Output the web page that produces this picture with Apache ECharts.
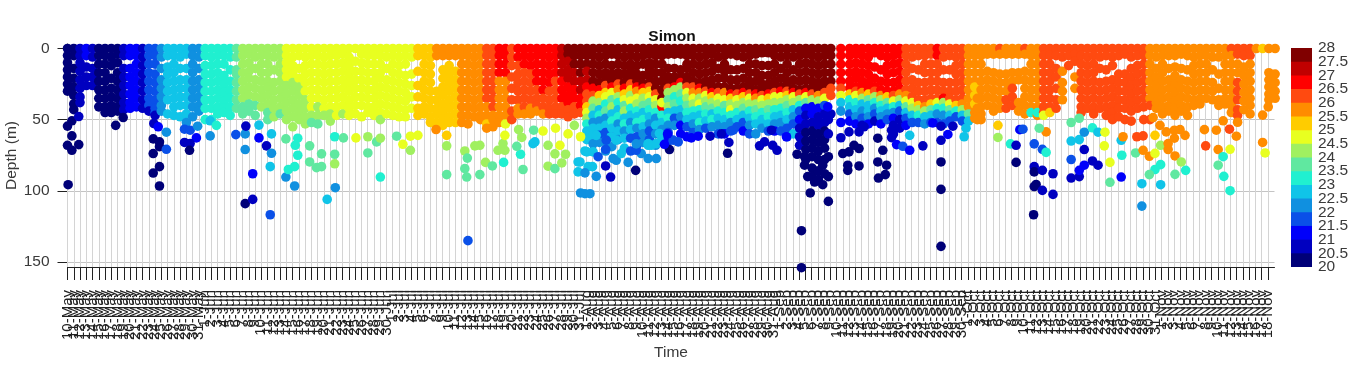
<!DOCTYPE html>
<html>
<head>
<meta charset="utf-8">
<title>Simon</title>
<script src="https://cdn.jsdelivr.net/npm/echarts@6/dist/echarts.min.js"></script>
<style>
html,body{margin:0;padding:0;background:#fff;}
#main{width:1366px;height:374px;}
</style>
</head>
<body>
<div id="main"></div>
<script>
// tick months: name, first day, last day
var monthSpans = [['May',10,31],['Jun',1,30],['Jul',1,31],['Aug',1,31],['Sep',1,30],['Oct',1,31],['Nov',1,18]];
var depthTicks = [0,50,100,150];
var colorbarTicks = ['20','20.5','21','21.5','22','22.5','23','23.5','24','24.5','25','25.5','26','26.5','27','27.5','28'];
var tempLevels = [20,20.5,21,21.5,22,22.5,23,23.5,24,24.5,25,25.5,26,26.5,27,27.5];
var levelColors = ['#000078','#0000c0','#0000fa','#0a50e8','#1090e0','#10c4e8','#20f0d0','#60e8a0','#a0f060','#e8ff20','#ffcc00','#ff8c00','#ff4a10','#ff0000','#c00000','#800000'];

// one entry per day, each day is a list of [temperature, depth, depth, ...]
var mayProfiles = [
 [[20.2,0,5,10,15,20,25,30]],
 [[20.2,0,5,14,21,27,33,39,43]],
 [[20.7,0,5,10,16,22,28,34,38]],
 [[21.2,0,5],[20.7,13,20,26]],
 [[20.7,0,6,14,20,26]],
 [[20.2,0,5,11,17,23,29,35,41]],
 [[20.2,0,5,11,17,23,29,35,41,45]],
 [[20.2,0,6,12,21,28,34,40,45]],
 [[20.2,0,4,10,17,23,29,35,41,44]],
 [[20.7,0,5,14,20,26,32,38,43]],
 [[21.2,0,5,14,20,26,32,38,42]],
 [[21.2,0,5,11,17,23,29,35,41]],
 [[20.7,0,6,12,18,24,30,36,42]],
 [[21.7,0,5,11,17,23,29,35,40],[20.7,44]],
 [[21.7,0,5,11,18,24,30,36,42,45],[20.7,47]],
 [[22.2,0,6,14,22,28,34,40,44]],
 [[22.7,0,5,13,18,24,30,36,46]],
 [[22.7,0,5,11,17,23,29,35,41,47]],
 [[22.7,0,6,14,22,28,34,40,48]],
 [[22.7,0,4,14,22,28,34,40,46],[22.2,52]],
 [[22.2,0,5,11,17,23,29,35,41,48]],
 [[22.2,0,6,14,22,28,34,40,44]]
];
var junProfiles = [
 [[23.2,0,5,12,18,24,30,36,42,50]],
 [[23.2,0,6,12,18,24,30,36,42,50]],
 [[23.2,0,5,11,17,23,29,35,41,46]],
 [[23.2,0,5,11,19,25,31,37,42,45]],
 [[23.2,0,6,15,23,29,35,41,47]],
 [[23.7,0,6,15,18,24,30,36,42]],
 [[24.2,0,5,11,17,23,29,35],[23.7,41,46]],
 [[24.2,0,4,10,16,21,27,33],[23.7,39,44]],
 [[24.2,0,6,14,22,28,34],[23.7,40,47]],
 [[24.2,0,5,11,17,23,29,35,41]],
 [[24.2,0,5,11,17,23,27,33,39],[23.7,45,50]],
 [[24.2,0,6,15,24,30,36,42,48]],
 [[24.2,0,5,11,17,23,29,35,41],[23.7,46]],
 [[24.7,0,5,10,15,20],[24.2,26,32,38,44,50]],
 [[24.7,0,6,12,18],[24.2,24,30,36,42,48,55]],
 [[24.7,0,5,14,21],[24.2,27,33,39,45,50]],
 [[24.7,0,6,12,18,24,30],[24.2,36,42,48,53]],
 [[24.7,0,5,11,17,23,29,35,41],[24.2,47],[23.7,52]],
 [[24.7,0,5,11,17,23,29,35],[24.2,41,47],[23.7,53]],
 [[24.7,0,6,12,18,24,30,36,42],[24.2,47]],
 [[24.7,0,5,11,17,23,29,35,41],[24.2,46,51]],
 [[24.7,0,5,11,17,23,29,35,41,47]],
 [[24.7,0,4,10,16,22,28,34,40],[24.2,46]],
 [[24.7,0,6,12,18,24,30,36,42,47]],
 [[24.7,0,9,16,22,28,34,40,46]],
 [[24.7,0,4,10,16,22,28,34,40,48]],
 [[24.7,0,5,11,17,23,29,35,41,45]],
 [[24.7,0,5,11,17,23,29,35,41,47]],
 [[24.7,0,5,11,17,21,27,33,39,45],[24.2,50]],
 [[24.7,0,6,14,22,28,34,40,46]]
];
var julProfiles = [
 [[24.7,0,5,11,17,23,29,35,41,47]],
 [[24.7,0,6,12,18,24,30,36,42,48]],
 [[24.7,0,5,11,19,25,31,37,43,48]],
 [[24.7,0,6,18,26,34,42]],
 [[25.2,0,5,16,26,34,42,47]],
 [[25.2,0,5,11,17,23,29,35,41,46]],
 [[25.2,0,6,12,18,24,30,36,42,48,52]],
 [[25.7,0,5],[25.2,30,36,42,46,52]],
 [[25.7,0,5],[25.2,15,21,27,33,39,45,50,54]],
 [[25.7,0,5],[25.2,12,18,24,30,36,42,48,52]],
 [[25.7,0,5],[25.2,16,22,28,34,40,46,52]],
 [[25.7,0,5,11,17,23,29,35,41,47,52]],
 [[25.7,0,5,11,17,23,29,35,41,47,53]],
 [[25.7,0,6,12,18,24,30,36,42,48]],
 [[25.7,0,5,11,17,23,29,35,41,47,50]],
 [[26.2,0,5,11,17,23,29,35],[25.7,41,47],[25.2,53],[25.7,56]],
 [[26.2,0,5,11,17,23,29,35,41],[25.7,47,50,55]],
 [[26.7,0,5,11,17],[25.7,23,29,35,41,47,52]],
 [[26.7,0,5,11,17],[25.7,23,29,35,41,47],[24.7,53]],
 [[26.2,0,6,12,20,28,36,44,50]],
 [[26.7,0,6],[26.2,12,18,24,30,36],[25.7,42,46]],
 [[26.7,0,5,11],[26.2,17,23,29,35,41],[25.7,46]],
 [[26.7,0,6,12],[26.2,18,24,30,36],[25.7,42,46]],
 [[26.7,0,5,11,17,23],[26.2,29,35,40],[25.7,44]],
 [[26.7,0,5,11,17,23,29],[26.2,35,41],[25.7,46]],
 [[26.7,0,6,12,18,24],[26.2,30,36,42,46]],
 [[26.7,0,5,11,17],[26.2,23,29,35,41,46]],
 [[27.2,0,5,11,17],[26.7,23,29,35],[26.2,41,46]],
 [[27.7,0,4],[27.2,9,15,21],[26.7,27,33,38],[26.2,43,48]],
 [[27.7,0,5,11],[27.2,17,23],[26.7,29,35],[26.2,41,46]],
 [[27.7,0,5,11,17],[27.2,23,29],[26.7,35,40],[26.2,45]]
];
var augProfiles = [
 [[27.7,0,5,11],[27.2,16,22],[26.7,27],[26.2,32,37],[25.2,41],[24.7,45],[24.2,49],[23.2,53],[22.7,58,64]],
 [[27.7,0,5,11,17,23],[26.7,28],[26.2,33],[24.2,37],[23.7,42],[22.7,47],[22.2,52],[22.7,56,61],[22.2,67]],
 [[27.7,0,6,12,18,24],[26.7,29],[25.2,33],[24.2,38],[22.7,43],[23.2,47],[22.2,51],[22.7,56],[21.7,61],[22.2,66]],
 [[27.7,0,5,11,17,22],[26.2,26],[25.2,31],[24.7,34],[23.2,39],[23.7,44],[22.2,49],[22.7,54],[21.7,59],[22.2,65,72]],
 [[27.7,0,4,12,18,23],[26.7,27],[24.7,31],[23.7,36],[24.2,41],[22.7,46],[23.2,51],[22.7,56],[22.2,62,69]],
 [[27.7,0,5,11,17,22],[26.2,25],[25.7,29],[24.2,34],[23.2,38],[22.7,43],[23.2,48],[22.2,53],[22.7,58],[22.2,64]],
 [[27.7,0,6,12,18,24],[26.7,28],[25.2,32],[24.7,36],[23.7,40],[24.2,44],[22.7,49],[23.2,53],[22.2,58],[22.7,63,70]],
 [[27.7,0,5,11,16,21],[26.2,25],[25.2,29],[24.2,33],[24.7,37],[23.2,42],[22.7,47],[22.2,52],[22.7,57],[21.7,63,72]],
 [[27.7,0,6,12,18,23],[26.7,27],[25.7,30],[24.7,35],[24.2,39],[23.2,44],[22.7,48],[23.2,52],[22.2,56],[21.7,62,68]],
 [[27.7,0,5,11,19,25],[26.7,28],[25.2,31],[24.2,35],[23.7,40],[22.7,45],[23.2,50],[22.7,55],[22.2,60,66]],
 [[27.7,0,4,10,15,19,24],[26.2,27],[25.2,30],[24.7,34],[23.7,38],[23.2,43],[22.7,48],[22.2,53],[21.7,58,64]],
 [[27.7,0,5,11,17,23,28],[26.2,32],[24.7,36],[24.2,40],[23.2,45],[22.2,49],[22.7,54],[22.2,60,68]],
 [[27.7,0,5,11,17,23,29,35],[26.7,41],[24.7,38],[23.2,47],[22.7,52],[22.2,57],[22.7,63]],
 [[27.7,0,4,14,20,25],[26.2,28],[24.2,31],[23.7,36],[24.2,41],[22.7,45],[23.2,49],[22.2,54],[21.7,59,65]],
 [[27.7,0,4,14,20,24],[26.7,27],[24.2,29],[23.2,34],[23.7,39],[22.7,44],[21.7,49],[22.2,54]],
 [[27.7,0,4,15,20],[26.7,24],[24.2,27],[23.7,32],[23.2,37],[22.7,43],[22.2,48],[21.2,54,60]],
 [[27.7,0,5,11,14,20,24],[26.2,27],[24.7,31],[24.2,35],[23.7,40],[23.2,45],[22.7,50],[21.7,55],[21.2,62]],
 [[27.7,0,5,11,17,23],[26.2,27],[25.7,31],[24.7,35],[24.2,39],[23.2,44],[22.7,48],[22.2,53],[21.7,59]],
 [[27.7,0,6,12,18,24],[26.7,28],[25.7,31],[24.2,35],[24.7,39],[23.2,43],[22.7,47],[23.2,52],[22.2,57]],
 [[27.7,0,5,11,17,23,27],[26.2,30],[24.7,33],[24.2,37],[23.7,41],[23.2,46],[22.7,51],[21.7,56]],
 [[27.7,0,4,10,16,22,27],[26.7,31],[25.2,34],[24.2,38],[23.7,42],[22.7,46],[23.2,50],[22.2,55]],
 [[27.7,0,6,14,21,27],[26.2,31],[24.7,35],[24.2,39],[23.2,44],[22.7,49],[22.2,54],[21.7,60]],
 [[27.7,0,5,11,16,21,27],[25.7,31],[24.7,36],[23.7,40],[23.2,45],[22.7,50],[22.2,55],[21.2,60]],
 [[27.7,0,4,15,22,28],[26.7,32],[25.2,35],[24.2,39],[24.7,43],[23.2,47],[22.2,52],[21.7,58]],
 [[27.7,0,5,15,22,28],[26.2,32],[24.7,36],[24.2,40],[23.2,45],[22.7,50],[21.7,55]],
 [[27.7,0,6,14,21,27],[26.7,31],[25.2,34],[24.2,38],[23.7,42],[22.7,47],[21.7,52],[21.2,58]],
 [[27.7,0,5,11,17,23,27],[26.2,32],[24.7,35],[24.2,39],[23.2,44],[22.7,49],[22.2,54],[21.7,60]],
 [[27.7,0,4,11,17,23,29],[26.7,32],[25.7,35],[24.2,39],[23.7,43],[23.2,48],[22.7,53],[22.2,60]],
 [[27.7,0,3,12,19,25,30],[26.2,33],[24.7,36],[24.2,40],[23.2,45],[22.7,50],[22.2,56]],
 [[27.7,0,3,12,19,25,29],[26.7,32],[25.2,35],[24.2,39],[23.7,43],[23.2,48],[22.7,53],[21.7,58]],
 [[27.7,0,5,11,17,23,28],[26.2,31],[24.7,34],[24.2,38],[23.2,43],[22.7,48],[22.2,53],[21.2,58]]
];
var sepProfiles = [
 [[27.7,0,6,14,21,27],[26.7,30],[24.7,34],[24.2,38],[23.2,42],[22.7,47],[22.2,52],[21.7,58]],
 [[27.7,0,5,11,17,23,27],[26.2,30],[25.2,33],[24.2,36],[23.7,40],[23.2,45],[22.7,50],[21.7,56,62]],
 [[27.7,0,6,15,22,28],[26.7,31],[24.7,34],[24.2,38],[22.7,43],[22.2,48],[21.7,53],[22.7,60]],
 [[27.7,0,5,11,17,23,29],[26.2,32],[24.2,36],[23.2,40],[21.7,44],[21.2,50],[20.7,56,62,68]],
 [[27.7,0,4,10,16,22,28],[26.7,31],[24.7,34],[23.7,38],[21.2,42],[20.7,47,53],[20.2,59,65,71,78]],
 [[27.7,0,5,11,17,23,28],[26.2,32],[24.2,36],[21.2,41,46],[20.7,52],[20.2,58,64,70,76,84,90]],
 [[27.7,0,6,12,18,24,29],[25.7,33],[24.2,37],[21.2,42],[20.7,48,54],[20.2,60,66,72,78,86,92]],
 [[27.7,0,5,11,17,23,28],[26.2,31],[24.7,35],[21.7,40],[20.7,46,52],[20.2,58,64,70,78,88]],
 [[27.7,0,5,11,17,23],[26.2,28,33],[20.7,46]],
 [],
 [],
 [[26.7,0,5,11,17,23,28],[25.2,32],[23.2,36],[22.7,41],[21.7,46],[21.2,51]],
 [[26.7,0,4,10,16,21,27],[26.2,30],[24.7,33],[23.2,38],[22.7,43],[22.2,48],[21.2,53]],
 [[26.7,0,5,11,17,23,28],[25.7,31],[24.2,35],[22.7,39],[22.2,44],[21.7,49],[20.7,54]],
 [[26.7,0,6,12,18,24,29],[25.2,32],[23.7,36],[22.7,40],[22.7,44],[22.2,48],[21.2,53]],
 [[26.7,0,3,13,21,27],[26.2,30],[24.2,34],[23.2,38],[22.2,42],[21.7,46],[20.7,51]],
 [[26.7,0,5,15,23,29],[25.7,33],[24.2,36],[23.2,40],[22.7,44],[22.2,48],[21.2,53]],
 [[26.7,0,6,12,18,24,30],[25.2,34],[23.7,38],[22.7,42],[22.2,46],[21.7,50]],
 [[26.7,0,5,11,17,24,30],[26.2,33],[24.7,37],[23.2,41],[22.2,45],[21.2,49],[20.7,54,60]],
 [[26.7,0,4,10,16,22,28],[25.7,32],[24.2,36],[22.7,40],[21.7,44],[20.7,50,56]],
 [[26.2,0,5,11,17,23,29],[25.7,33],[24.7,37],[23.7,41],[22.7,45],[21.7,49],[21.2,54]],
 [[26.2,0,6,14,22,28,34],[24.7,38],[24.2,42],[22.7,47],[21.7,52]],
 [[26.2,0,5,15,24,30,36],[25.2,40],[24.2,43],[23.2,47],[21.7,52]],
 [[26.2,0,5,11,17,24,30,36],[25.7,41],[24.2,44],[22.7,48],[22.2,53]],
 [[26.2,0,4,11,17,23,29,35],[25.2,39],[23.7,43],[22.7,47],[21.7,52]],
 [[26.7,0,5],[26.2,11,17,23,29,35],[24.7,38],[23.2,42],[22.2,46],[21.7,52]],
 [[26.2,0,6,15,24,30],[26.7,35],[24.2,38],[23.2,42],[22.2,47],[21.7,53]],
 [[26.2,0,5,15,24,30,35],[24.7,39],[23.7,43],[22.7,47],[21.7,51]],
 [[26.2,0,6,12,18,24,30,36],[25.2,40],[23.2,44],[21.7,48]],
 [[26.2,0,5,11,17,23,29,35],[25.7,39],[24.2,43],[22.7,47],[21.7,51]]
];
var octProfiles = [
 [[25.7,0,5,11,17,23,29,35,41],[23.7,46],[22.7,51]],
 [[25.7,0,5,11,17,23,29],[25.2,27,33,39],[25.7,45,49]],
 [[25.7,0,5,11,17,23,29,35,41,46],[25.7,50]],
 [[25.7,0,4,16,22,28,34,40]],
 [[25.7,0,4,17,23,29,35,41,44]],
 [[26.2,0],[25.7,4,18,24,30,36,42]],
 [[25.7,0,4,18,24,30],[26.2,36,42]],
 [[25.7,0,4,17,23],[26.2,28,34,40]],
 [[25.7,0,4,17,22],[25.7,38,44]],
 [[26.2,0],[25.7,4,16,22,28,34,40,46]],
 [[25.7,0,5,11,17,23,29,35,41],[23.2,45]],
 [[25.7,0,5,11,17,23,29,35,41,47],[23.2,45]],
 [[26.2,0,5,11,17,23,29,35,41,45],[24.7,47]],
 [[26.2,0,5,11,17,23,29,35,41],[25.2,45]],
 [[26.2,0,5,14,20,28,36,42]],
 [[26.2,0,6],[25.7,16,24,30,36]],
 [[26.2,0,5,12]],
 [[26.2,0,4,9],[25.7,20,28]],
 [[26.2,0,5,11,17,23,29,35,41,45]],
 [[26.2,0,6,12,18,24,30,36,42]],
 [[26.2,0,5,11,17,23,29,35,41,46]],
 [[26.2,0,6,14,24,30,36,42]],
 [[26.2,0,5,15,23,29,35,41,47]],
 [[26.2,0,6,12,22,28,34,40,45,50]],
 [[26.2,0,5,18,24,30,36,42,48]],
 [[26.2,0,4,18,24,30,36,42,50]],
 [[26.2,0,6,14,20,26,32,38,44,51]],
 [[26.2,0,5,12,18,24,30,36,42]],
 [[26.2,0,5,11,17,23,29,35,41,50]],
 [[25.7,0,5,11,17,23,29,35],[26.2,40,50]],
 [[25.7,0,6,14,20,26,32,38,42]]
];
var novProfiles = [
 [[25.7,0,5,11,17,23,29,35,41,46]],
 [[25.7,0,5,14,22,28,34,40,44]],
 [[25.7,0,5,13,19,25,31,37,42,47]],
 [[25.7,0,4,14,22,28,34,40,44]],
 [[25.7,0,5,15,23,29,35,41,47]],
 [[25.7,0,6,12,18,24,30,36,40]],
 [[25.7,0,5,11,17,23,29,35,39]],
 [[25.7,0,5,11,17,23,29,35]],
 [[25.7,0,6,15,24,30,36]],
 [[25.7,0,6,18,28,36,40]],
 [[25.7,0,5,11,17,23,29,35,39]],
 [[26.2,0],[25.7,5,11,17,23,29,35,40,45]],
 [[26.2,0,4],[25.7,11,17],[26.2,24,30,36,43,47]],
 [[26.2,0,5],[25.7,13,19,25,31,37,43]],
 [[26.2,0,5],[25.7,11,17,23,29,35,40,46]],
 [[25.7,0]],
 [[25.2,0]],
 [[25.7,0,17,22,27,32,36]],
 [[25.7,0,18,24,30,35]]
];

// single dots below the mixed layer: day, depth, temperature
var deepDots = [
 [0.1,95.7,20.2],[0,54.5,20.2],[0.7,50.8,20.2],[1.8,47.8,20.7],[0.7,61.4,20.2],[0,68,20.2],[0.7,71.5,20.2],[1.8,67.5,20.2],
 [7.7,54,20.2],[8.9,48.5,20.2],[13.8,52.7,20.7],[14.5,55,21.2],[15.8,58.8,22.2],[13.7,63.5,20.2],[14.7,65.6,20.2],[14.7,69,20.2],
 [13.7,73.8,20.2],[15.8,70.8,21.7],[14.7,83,20.2],[13.7,87.5,20.2],[14.7,96.6,20.2],[18.7,56.7,21.7],[19.6,57.4,21.7],[20.8,54.6,22.2],
 [20.6,62.8,21.2],[19.6,66.8,20.7],[18.7,66,20.7],[19.5,71.5,20.2],[22.8,61.4,22.2],[22.8,50.8,22.7],[23.8,54,23.2],
 [26.9,60.5,21.7],[28.4,60,22.2],[28.4,71,22.2],[28.5,54.5,20.7],[30.6,53.8,22.7],[30.6,62.8,21.2],[31.8,68.4,20.7],[32.6,60,22.7],
 [32.6,73.6,22.2],[32.4,83,22.7],[29.6,88,21.2],[28.4,109,20.2],[29.6,106,20.7],[32.4,116.8,21.7],[34.9,90.3,22.2],[35.3,85,23.2],
 [36.3,96.6,22.2],[36.3,83,23.2],[36.8,75,23.2],[36.4,68,23.2],[36.8,63,23.2],[34.9,63.5,23.7],[38.7,68.4,23.7],[38.7,79.7,23.7],
 [39.8,83.7,23.7],[40.6,83,23.7],[40.6,74,23.7],[41.5,106,22.7],[42.7,62,23.2],[42.7,74.3,23.7],[42.7,81,24.2],[42.8,97.8,22.2],
 [44.1,62.8,23.7],[46.1,62.8,24.7],[48,73.4,23.7],[48,62,24.2],[49.4,65.6,23.7],[50,63,24.2],[50,90.3,23.2],[52.6,61.6,23.7],
 [53.6,67.3,24.7],[54.8,71.5,24.2],[54.8,61.6,24.7],[56,61,24.7],[58.9,56.9,25.7],[60.6,61,25.2],[60.6,68.4,24.2],[60.6,88.6,23.7],
 [63.5,72,24.2],[63.9,77,23.7],[63.5,84.4,23.7],[63.8,90.3,23.7],[65.9,88.6,23.7],[65.1,68.4,24.2],[65.9,68,24.2],[66.8,80,24.2],
 [67.9,82.5,23.7],[69.7,80,23.2],[68.8,71.5,24.2],[69.9,71.5,24.2],[69.6,66.8,24.2],[69.9,61,24.7],[72.8,85,23.7],[72.4,74.3,23.2],
 [71.8,68.7,23.7],[72.6,62.5,24.2],[72.1,57,24.2],[74.4,66.8,22.7],[74.7,65.6,22.7],[74.5,57.4,23.7],[76.8,68,24.2],[76.8,82.7,24.2],
 [77.9,84.4,23.7],[79,80.4,24.2],[79.6,74.3,24.2],[77.9,74,24.2],[78.7,68,24.7],[76,58,24.7],[78,56,24.7],[80,60,24.7],[82,62,24.7],[81,54,24.2],
 [82,101.5,22.2],[82.7,102,22.2],[83.5,102,22.2],[64,135,21.7],
 [83,72.6,22.7],[84,72.6,22.7],[81.9,79.7,22.7],[83.2,83,22.7],[87.7,78.5,22.2],[88.5,73.8,22.7],[87.7,64.4,22.7],[86.9,62,22.7],[86.1,64.4,21.7],
 [84.5,61,22.7],[92.8,68,22.7],[93.3,68,22.7],[94.1,66.8,22.7],[91.7,73.8,22.2],[96,62,21.2],[96.8,64.4,21.7],[94.6,59.7,22.7],
 [81.6,79.7,22.7],[81.6,86.7,22.7],[82.7,87.4,22.2],[83.9,83,22.7],[84.5,89.8,22.2],[84.8,76,21.7],[82.7,72,22.7],[86,70.8,21.7],
 [86,82.5,20.7],[86.8,90.3,20.7],[87.2,77.3,22.2],[89.6,80,22.2],[90.8,85.6,20.2],[90.9,71.5,21.7],[90.9,67,22.2],[92.8,77.3,22.2],
 [94.1,77.3,22.2],[92.8,66.8,22.7],[96.2,71,20.2],[95.4,67.3,21.2],[95.9,60,21.2],[97.6,65.6,21.7],
 [99.7,62.8,21.2],[100.8,61.6,21.2],[102.7,61.6,20.7],[104.5,60,20.7],[105.7,66,20.7],[105.5,73.6,20.2],[106.4,57.4,21.7],
 [110.6,68.4,20.7],[111.4,65.6,20.7],[112.7,68,20.7],[113.4,71.5,20.7],[112.5,57.4,20.7],[114.9,62,21.2],[116.6,74.3,20.2],
 [117.3,128,20.2],[117.3,154,20.2],[118.7,101.5,20.2],[121.6,107.4,20.2],[117.8,82,20.2],[117.8,76,20.2],[118.3,90,20.2],[119.4,93.8,20.2],
 [120.7,95.7,20.2],[121.6,90,20.2],[121.6,76,20.2],[120.7,82,20.2],[121.6,60,20.7],[121.6,50,20.7],[121.5,41,21.2],
 [123.6,0,26.7],[123.6,5,26.7],[123.6,11,26.7],[123.6,17,26.7],[123.6,23,26.7],[123.6,28,26.2],[123.6,33,24.7],[123.6,38,22.7],[123.6,44,22.2],
 [123.6,62.7,20.7],[124.9,58.6,20.7],[126.5,58.6,20.7],[127.3,55,20.7],[123.9,73.8,20.2],[124.9,72.6,20.2],[125.7,68,20.2],[126.5,70.3,20.2],
 [124.7,82,20.2],[124.7,85.6,20.2],[126.5,82.5,20.2],[123.6,52,21.2],[129.5,63,20.2],[130.3,71.5,20.2],[129.5,79.7,20.2],[130.9,82,20.2],
 [130.7,88.6,20.2],[129.6,91,20.2],[131.7,57.4,20.7],[131.7,62.6,20.7],[132.5,67.5,21.2],[133.5,68.7,21.7],[134.6,71.5,21.2],[134.6,61,22.7],
 [136.7,68.4,20.7],[138.3,52.3,21.2],[139.6,54.6,20.7],[139.6,64.5,20.7],[139.6,79.7,20.2],[139.6,99,20.2],[139.6,139,20.2],[140.7,60.4,21.2],
 [141.5,54.6,20.7],[143.3,62,22.7],[143.6,56,22.7],[145.4,50,25.7],[145.4,42,25.7],[145.4,35,25.7],[148.7,54,25.2],[148.7,62.5,24.2],
 [150.7,67,23.2],[151.6,68,20.7],[151.6,80,20.2],[152.2,57,21.2],
 [152.7,56.7,21.7],[154.5,67,21.7],[155.8,70.8,21.7],[156.4,73,23.2],[156.4,58.6,25.7],[155.3,56,23.7],[154.5,83,20.7],[154.5,86.7,20.2],
 [155.8,85.6,20.7],[157.5,88,20.7],[154.5,97,20.2],[154.8,95.5,20.2],[155.8,99.7,20.7],[157.5,102.5,20.7],[154.4,116.8,20.2],
 [160.4,78,21.7],[162.5,71,20.7],[160.4,91,20.7],[161.7,90,20.7],[161.7,85.6,21.2],[162.5,82,21.2],[163.8,79,20.7],[164.7,82,20.7],
 [160.4,65,22.7],[161.7,64,22.7],[162.5,58.8,22.2],[163.8,55.7,23.2],[164.7,58.8,22.7],[160.4,52,23.7],[161.7,49,23.7],[165.8,58.8,24.7],
 [165.7,68.4,24.7],[166.6,80,24.7],[166.6,94,23.7],[168.4,90.3,21.2],[168.5,75,23.2],[168.4,64.5,22.7],[168.7,62,25.7],[170.7,73.4,23.7],
 [170.9,62,26.2],[171.9,61.4,26.2],[171.9,71.5,25.7],[172.9,75.7,25.7],[173.8,73.7,24.7],[173.8,61,25.2],[174.7,68,24.2],[174.7,81.6,23.2],
 [173.8,85,23.2],[172.9,88.6,23.7],[171.7,95,22.7],[174.7,95.7,22.7],[171.7,110.7,22.2],[177,88.4,23.7],[178.7,85.6,23.2],[177,75.5,25.7],
 [178,79.7,24.2],[175.9,71,25.7],[175.9,66.8,25.7],[176.9,63,25.7],[178.6,61,25.7],[177.8,57,25.7],[176.9,57.4,25.7],[175.6,58.6,25.7],
 [174.6,54,25.7],[173.5,48.5,25.7],[181.7,57,25.7],[181.9,68.4,26.2],[183.6,57.4,25.7],[183.9,71,25.7],[185.8,70.8,24.7],[184.7,76,23.2],
 [183.9,82,23.7],[184.8,89.8,23.2],[185.8,99.9,23.2],[185.7,56.7,26.2],[186.8,61.6,25.7],[187,51.8,25.7],[184.7,50.8,25.7],
 [191,66,25.7],[191.4,73.4,24.7],[191,46.8,25.7],[191.9,41,25.7]
];

var tickLabels = [];
monthSpans.forEach(function (m) {
  for (var d = m[1]; d <= m[2]; d++) tickLabels.push(d + '-' + m[0]);
});

var dots = [];
mayProfiles.concat(junProfiles, julProfiles, augProfiles, sepProfiles, octProfiles, novProfiles).forEach(function (rows, day) {
  rows.forEach(function (row) {
    row.slice(1).forEach(function (depth) { dots.push([day, depth, row[0]]); });
  });
});
dots = dots.concat(deepDots);

var font = 'Liberation Sans';
var textColor = '#3a3a3a';

// colour bar: one bar per level, tallest first so the lower ones sit on top
var barSeries = tempLevels.slice().reverse().map(function (t, i) {
  return {
    type: 'bar', xAxisIndex: 1, yAxisIndex: 1, barWidth: '100%', barGap: '-100%',
    data: [t + 0.5], silent: true,
    itemStyle: { color: levelColors[15 - i] }
  };
});

var option = {
  animation: false,
  backgroundColor: '#fff',
  title: {
    text: 'Simon', left: 667, top: 24, textAlign: 'center',
    textStyle: { fontFamily: font, fontSize: 15.5, fontWeight: 'bold', color: '#111' }
  },
  grid: [
    { left: 67.5, top: 44, width: 1207, height: 223, outerBoundsMode: 'none' },
    { left: 1291, top: 48, width: 21, height: 219, outerBoundsMode: 'none' },
    // day ticks and labels sit on a category axis that ends on 18-Nov
    { left: 67.5, top: 44, width: 1200.5, height: 223, outerBoundsMode: 'none' }
  ],
  xAxis: [{
    type: 'value', min: 0, max: 192.9,
    name: 'Time', nameLocation: 'middle', nameGap: 78, nameMoveOverlap: false,
    nameTextStyle: { fontFamily: font, fontSize: 15.5, color: textColor },
    axisLine: { onZero: false, lineStyle: { color: '#222', width: 1 } },
    axisTick: { show: false },
    axisLabel: { show: false },
    splitLine: { show: false }
  }, {
    gridIndex: 1, type: 'category', data: [''], axisLine: { show: false }, axisTick: { show: false }, axisLabel: { show: false }
  }, {
    gridIndex: 2, type: 'category', boundaryGap: false, data: tickLabels,
    axisLine: { show: false },
    axisTick: { interval: 0, length: 13, lineStyle: { color: '#222', width: 1 } },
    axisLabel: { interval: 0, rotate: 90, margin: 23, fontFamily: font, fontSize: 15, color: '#222' },
    splitLine: { show: true, interval: 0, lineStyle: { color: '#d4d4d4', width: 1 } },
    z: 1
  }],
  yAxis: [{
    type: 'value', inverse: true, min: -3.16, max: 153.5,
    name: 'Depth (m)', nameLocation: 'middle', nameGap: 48, nameMoveOverlap: false,
    nameTextStyle: { fontFamily: font, fontSize: 15.5, color: textColor },
    axisLine: { show: true, onZero: false, lineStyle: { color: '#222', width: 1 } },
    axisTick: { customValues: depthTicks, length: 10, lineStyle: { color: '#222', width: 1 } },
    axisLabel: { customValues: depthTicks, margin: 18, padding: [3, 0, 0, 0], fontFamily: font, fontSize: 15.5, color: textColor },
    splitLine: { show: true, lineStyle: { color: '#c4c4c4', width: 1 } }
  }, {
    gridIndex: 1, type: 'value', min: 20, max: 28, show: false
  }, {
    gridIndex: 1, type: 'category', position: 'right', boundaryGap: false, data: colorbarTicks,
    axisLine: { show: false }, axisTick: { show: false }, splitLine: { show: false },
    axisLabel: { interval: 0, margin: 6, padding: [4, 0, 0, 0], fontFamily: font, fontSize: 15.5, color: textColor }
  }, {
    gridIndex: 2, type: 'value', show: false
  }],
  visualMap: {
    show: false, seriesIndex: 0, dimension: 2,
    pieces: tempLevels.map(function (t, i) { return { gte: t, lt: t + 0.5, color: levelColors[i] }; })
  },
  series: [{
    type: 'scatter', data: dots, symbolSize: 9.6, clip: false, progressive: 0, large: false,
    z: 3, itemStyle: { opacity: 1 }
  }].concat(barSeries)
};

var myChart = echarts.init(document.getElementById('main'), null, { renderer: 'canvas' });
myChart.setOption(option);
</script>
</body>
</html>
